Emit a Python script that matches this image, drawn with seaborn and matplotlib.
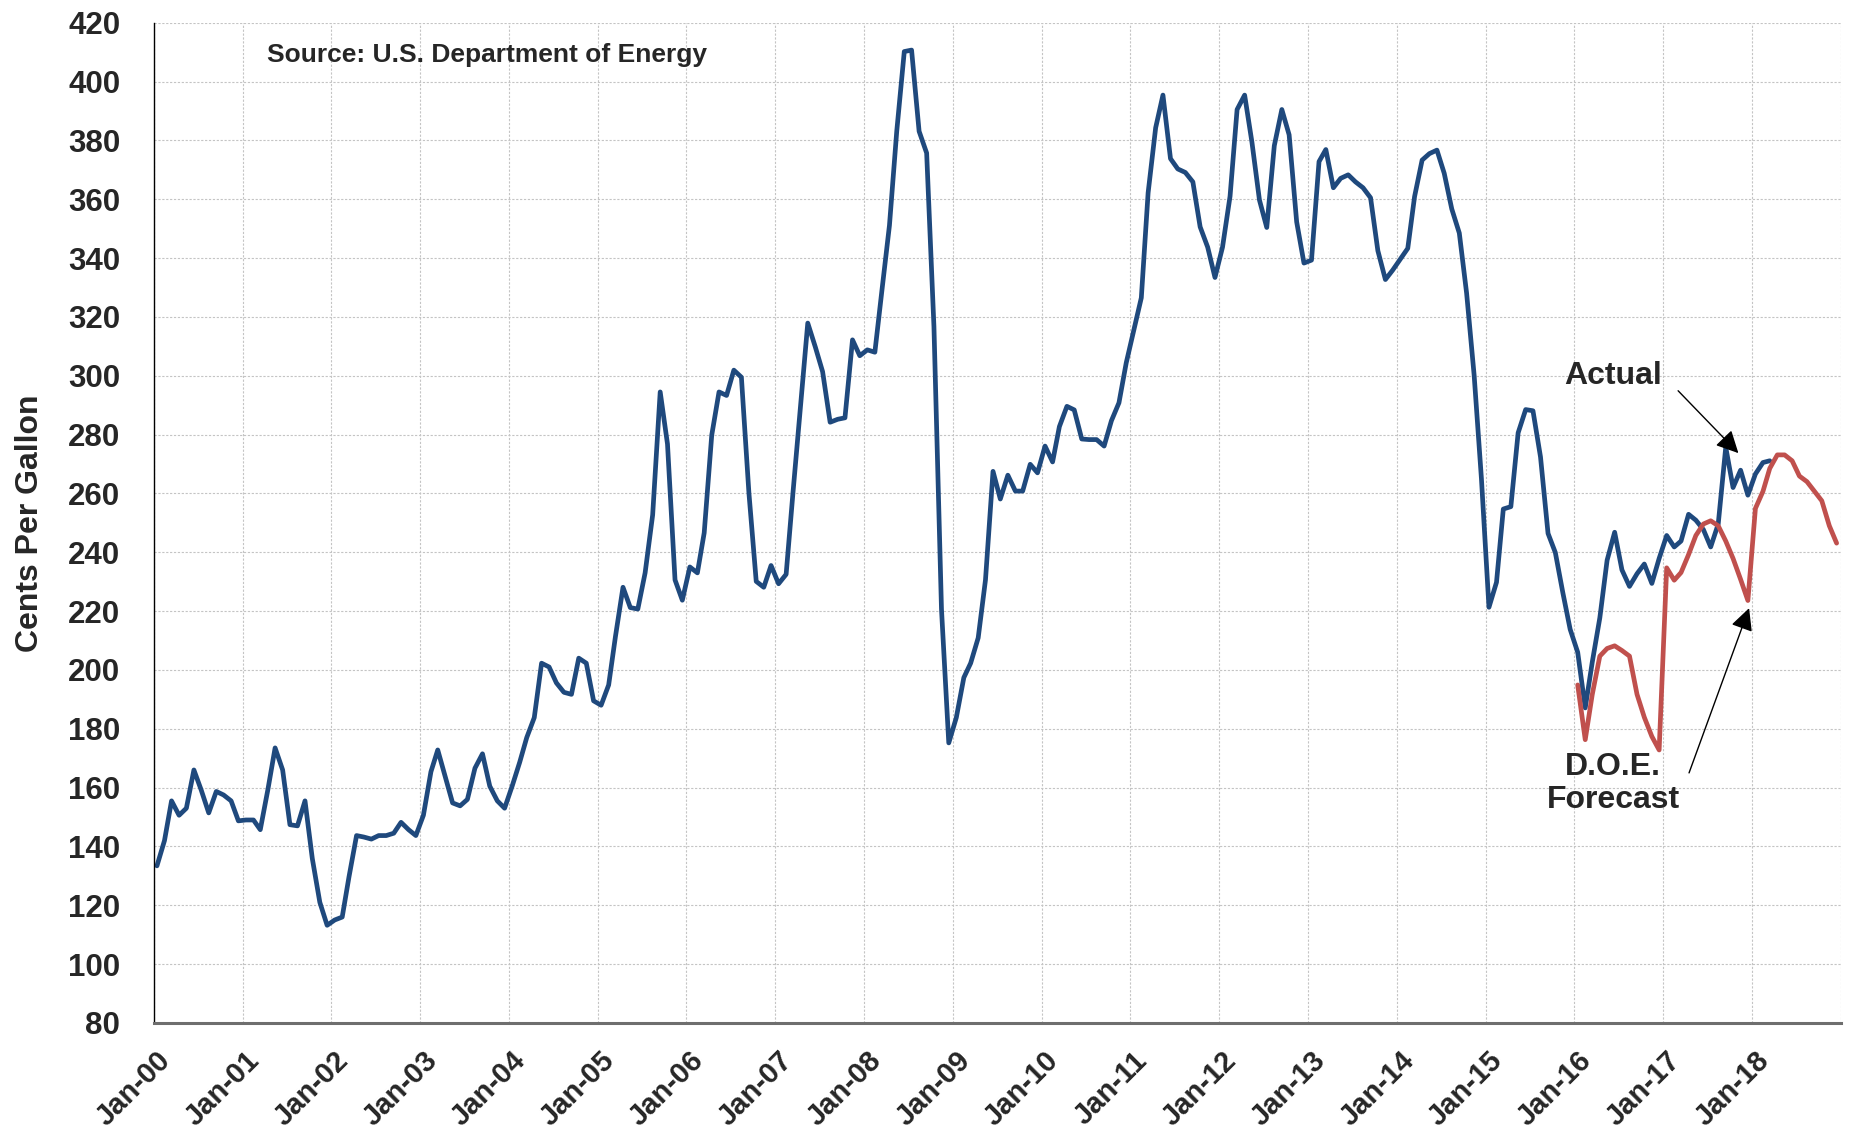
"""
Retail gasoline price: actual vs D.O.E. forecast (cents per gallon), monthly 2000-2018
"""
import numpy as np
import pandas as pd
import matplotlib
matplotlib.use("Agg")
import matplotlib.pyplot as plt
import matplotlib.transforms as mtrans
import seaborn as sns

# monthly actual price, Jan-00 .. Mar-18
actual_cents = [
    133.4, 142.0, 155.5, 150.6, 153.0, 166.0, 159.2, 151.4, 158.7, 157.5, 155.5, 148.7,  # 2000
    149.0, 149.0, 145.7, 159.2, 173.5, 166.0, 147.4, 147.0, 155.5, 135.9, 121.0, 113.2,  # 2001
    115.0, 116.0, 129.7, 143.7, 143.2, 142.5, 143.7, 143.7, 144.5, 148.2, 145.7, 143.7,  # 2002
    150.6, 165.4, 172.8, 163.7, 154.8, 153.8, 156.0, 166.6, 171.5, 160.5, 155.5, 153.0,  # 2003
    160.5, 168.6, 177.0, 183.8, 202.3, 201.0, 195.6, 192.4, 191.7, 204.0, 202.3, 189.5,  # 2004
    188.0, 194.9, 211.4, 228.1, 221.2, 220.7, 233.0, 252.7, 294.5, 276.8, 230.6, 223.7,  # 2005
    235.0, 233.0, 246.6, 279.8, 294.5, 293.3, 301.9, 299.5, 260.1, 230.1, 228.1, 235.5,  # 2006
    229.3, 232.5, 260.1, 289.6, 317.9, 309.8, 301.4, 284.2, 285.2, 285.7, 312.2, 306.8,  # 2007
    308.8, 308.0, 329.0, 351.1, 383.1, 410.2, 410.7, 383.1, 375.7, 316.7, 220.7, 175.2,  # 2008
    183.8, 197.4, 202.3, 210.9, 230.6, 267.5, 258.1, 266.2, 260.8, 260.8, 269.9, 267.0,  # 2009
    276.1, 270.7, 282.7, 289.6, 288.4, 278.5, 278.3, 278.3, 276.1, 284.7, 290.8, 304.4,  # 2010
    315.4, 326.5, 362.2, 384.3, 395.4, 373.8, 370.3, 369.1, 365.9, 350.6, 343.7, 333.4,  # 2011
    343.7, 361.0, 390.5, 395.4, 379.4, 359.7, 350.4, 378.2, 390.5, 381.9, 352.3, 338.3,  # 2012
    339.3, 372.8, 376.9, 363.9, 367.1, 368.3, 365.9, 363.9, 360.5, 342.5, 332.7, 335.9,  # 2013
    339.6, 343.3, 360.9, 373.3, 375.5, 376.7, 368.8, 356.7, 348.5, 328.1, 300.2, 265.0,  # 2014
    221.3, 229.8, 254.7, 255.5, 280.6, 288.5, 288.1, 272.4, 246.4, 239.9, 226.2, 213.8,  # 2015
    206.0, 187.1, 202.7, 217.7, 237.3, 246.8, 234.0, 228.4, 232.7, 236.0, 229.4, 237.9,  # 2016
    245.7, 241.8, 243.8, 252.9, 250.9, 247.7, 241.8, 249.6, 275.7, 262.0, 267.9, 259.4,  # 2017
    266.6, 270.5, 271.1,                                                                  # 2018
]

# D.O.E. forecast, Jan-16 .. Dec-18
forecast_cents = [
    194.9, 176.3, 191.7, 204.7, 207.3, 208.2, 206.6, 204.7, 191.7, 183.9, 177.4, 172.8,
    234.7, 230.5, 233.1, 239.2, 245.7, 249.6, 250.7, 249.0, 243.8, 237.9, 230.8, 223.6,
    254.9, 260.7, 268.5, 273.1, 273.1, 271.1, 265.9, 264.0, 260.7, 257.5, 249.0, 243.1,
]

year_ticks = ["2000-01-01", "2001-01-01", "2002-01-01", "2003-01-01", "2004-01-01",
              "2005-01-01", "2006-01-01", "2007-01-01", "2008-01-01", "2009-01-01",
              "2010-01-01", "2011-01-01", "2012-01-01", "2013-01-01", "2014-01-01",
              "2015-01-01", "2016-01-01", "2017-01-01", "2018-01-01", "2019-01-01"]
year_labels = ["Jan-00", "Jan-01", "Jan-02", "Jan-03", "Jan-04", "Jan-05", "Jan-06",
               "Jan-07", "Jan-08", "Jan-09", "Jan-10", "Jan-11", "Jan-12", "Jan-13",
               "Jan-14", "Jan-15", "Jan-16", "Jan-17", "Jan-18", ""]

# points sit mid month
actual_dates = pd.date_range("2000-01-01", periods=len(actual_cents), freq="MS") + pd.Timedelta(days=14)
forecast_dates = pd.date_range("2016-01-01", periods=len(forecast_cents), freq="MS") + pd.Timedelta(days=14)

BLUE = "#1f497d"
RED = "#c0504d"

sns.set_style("white")
plt.rcParams["font.family"] = ["Liberation Sans", "DejaVu Sans"]
plt.rcParams["font.weight"] = "bold"

fig = plt.figure(figsize=(18.5, 11.36), dpi=100)
ax = fig.add_axes([0.083, 0.0995, 0.912, 0.8805])

sns.lineplot(x=actual_dates, y=actual_cents, color=BLUE, lw=3.4, ax=ax)
sns.lineplot(x=forecast_dates, y=forecast_cents, color=RED, lw=3.4, ax=ax)

ax.set_xlim(pd.Timestamp("2000-01-01"), pd.Timestamp("2019-01-01"))
ax.set_ylim(80, 420)
ax.set_yticks(np.arange(80, 421, 20))
ax.set_xticks(pd.to_datetime(year_ticks))
ax.set_xticklabels(year_labels, rotation=45, ha="right", va="top", rotation_mode="anchor")

ax.grid(True, color="#c4c4c4", linestyle=(0, (2, 1.5)), linewidth=0.8)
for side in ["top", "right"]:
    ax.spines[side].set_visible(False)
ax.spines["left"].set_color("black")
ax.spines["left"].set_linewidth(1.0)
ax.spines["bottom"].set_color("#6e6e6e")
ax.spines["bottom"].set_linewidth(2.2)
ax.tick_params(axis="both", direction="inout", length=14, width=1.1, color="black")
ax.tick_params(axis="y", pad=17, labelsize=22.5)
ax.tick_params(axis="x", pad=10, labelsize=21)
nudge = mtrans.ScaledTranslation(3 / 100, 0, fig.dpi_scale_trans)
for lab in ax.get_xticklabels():
    lab.set_fontweight("bold")
    lab.set_transform(lab.get_transform() + nudge)
for lab in ax.get_yticklabels():
    lab.set_fontweight("bold")

ax.set_xlabel("")
ax.set_ylabel("Cents Per Gallon", fontsize=23, fontweight="bold")
ax.yaxis.set_label_coords(-0.0645, 0.5)

ax.text(pd.Timestamp("2001-04-10"), 409, "Source: U.S. Department of Energy",
        fontsize=19, fontweight="bold", va="center", ha="left")

ax.text(pd.Timestamp("2016-06-08"), 300, "Actual", fontsize=23, fontweight="bold",
        ha="center", va="center")
ax.text(pd.Timestamp("2016-06-08"), 161.4, "D.O.E.\nForecast", fontsize=23,
        fontweight="bold", ha="center", va="center", linespacing=1.1)

arrow = dict(arrowstyle="-|>", color="black", lw=1.0, mutation_scale=34, shrinkA=0, shrinkB=0)
ax.annotate("", xy=(pd.Timestamp("2017-11-06"), 273.7),
            xytext=(pd.Timestamp("2017-03-03"), 294.9), arrowprops=arrow)
ax.annotate("", xy=(pd.Timestamp("2017-12-20"), 221.0),
            xytext=(pd.Timestamp("2017-04-17"), 165.0), arrowprops=arrow)

plt.savefig("out.png", dpi=100)
